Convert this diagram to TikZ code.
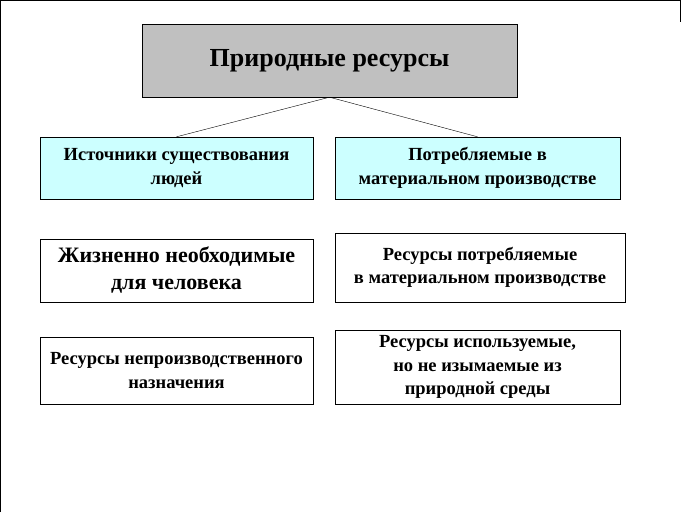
\documentclass[tikz,border=0pt]{standalone}
\usepackage{fontspec}
\setmainfont{Liberation Serif}
\definecolor{boxgrey}{HTML}{C0C0C0}
\definecolor{boxcyan}{HTML}{CCFFFF}
\begin{document}
\begin{tikzpicture}[x=1pt,y=-1pt,
        card/.style={draw, thin, align=center, inner sep=2pt,
            font=\bfseries\fontsize{18.5}{23.5}\selectfont},
        link/.style={draw, thin}
    ]
    \useasboundingbox (0,0) rectangle (682,512);
    \draw (0.5,512) -- (0.5,0.5) -- (681,0.5);
    \draw (680.5,0.5) -- (680.5,22);

    \node[card, fill=boxgrey, minimum width=375pt, minimum height=73pt,
        font=\bfseries\fontsize{26}{30}\selectfont] (top) at (329.5,60.5) {Природные ресурсы};

    \node[card, fill=boxcyan, minimum width=273pt, minimum height=62pt] (src) at (176.5,168) {Источники существования\\людей};
    \node[card, fill=boxcyan, minimum width=285pt, minimum height=62pt] (cons) at (477.5,168) {Потребляемые в\\материальном производстве};

    \node[card, minimum width=273pt, minimum height=63pt,
        font=\bfseries\fontsize{22}{27}\selectfont] (vital) at (176.5,270.5) {Жизненно необходимые\\для человека};
    \node[card, minimum width=290pt, minimum height=69pt] (mat) at (480,267.5) {Ресурсы потребляемые\\в материальном производстве};

    \node[card, minimum width=273pt, minimum height=67pt] (nonprod) at (176.5,370.5) {Ресурсы непроизводственного\\назначения};
    \node[card, minimum width=285pt, minimum height=74pt] (used) at (477.5,367) {Ресурсы используемые,\\но не изымаемые из\\природной среды};

    % connectors
    \draw[link] (top.south) -- (src.north);
    \draw[link] (top.south) -- (cons.north);
\end{tikzpicture}
\end{document}
